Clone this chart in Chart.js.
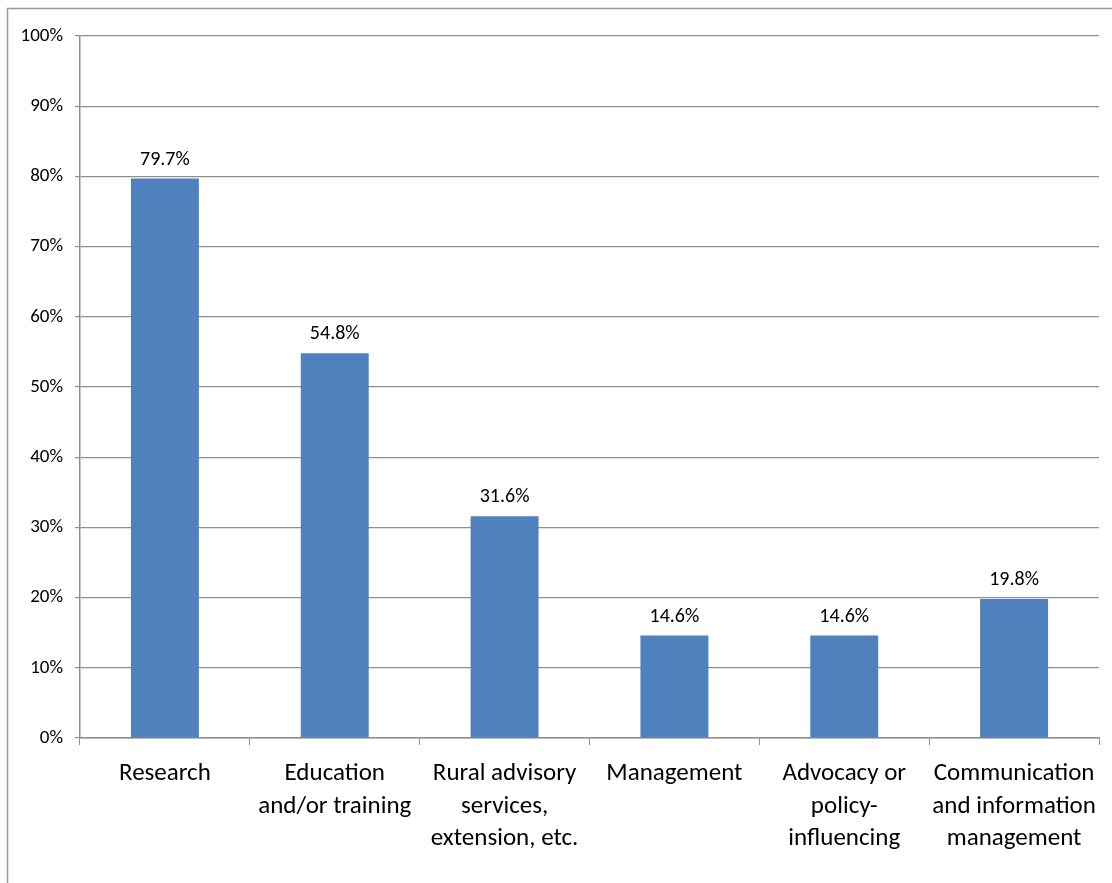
<!DOCTYPE html>
<html>
<head>
<meta charset="utf-8">
<script src="https://cdn.jsdelivr.net/npm/chart.js@4"></script>
<style>
  html, body { margin: 0; padding: 0; background: #fff; }
  #wrap { width: 1112px; height: 883px; position: relative; }
</style>
</head>
<body>
<div id="wrap"><canvas id="myChart"></canvas></div>
<script>
// activity categories (multi-line labels) and share of respondents
const categories = [
    ['Research'],
    ['Education', 'and/or training'],
    ['Rural advisory', 'services,', 'extension, etc.'],
    ['Management'],
    ['Advocacy or', 'policy-', 'influencing'],
    ['Communication', 'and information', 'management']
];
const shares = [79.7, 54.8, 31.6, 14.6, 14.6, 19.8];
const yTicks = [0, 10, 20, 30, 40, 50, 60, 70, 80, 90, 100];

const fontFam = "Carlito, Lato, 'Open Sans', sans-serif";
const gridCol = '#8e8e8e';

// outer frame: only the top and left edges show
const framePlugin = {
    id: 'frame',
    beforeDraw: (chart) => {
        const c = chart.ctx;
        c.save();
        c.strokeStyle = '#9a9a9a';
        c.lineWidth = 1.5;
        c.beginPath();
        c.moveTo(7.5, chart.height);
        c.lineTo(7.5, 8.5);
        c.lineTo(chart.width, 8.5);
        c.stroke();
        c.restore();
    }
};

// value labels above each bar
const valueLabels = {
    id: 'valueLabels',
    afterDatasetsDraw: (chart) => {
        const c = chart.ctx;
        const meta = chart.getDatasetMeta(0);
        c.save();
        c.font = '20px ' + fontFam;
        c.fillStyle = '#000';
        c.textAlign = 'center';
        c.textBaseline = 'bottom';
        meta.data.forEach((bar, i) => {
            c.fillText(shares[i].toFixed(1) + '%', bar.x, bar.y - 9);
        });
        c.restore();
    }
};

const ctx = document.getElementById('myChart');
const myChart = new Chart(ctx, {
    type: 'bar',
    data: {
        labels: categories,
        datasets: [{
            data: shares,
            backgroundColor: '#4f81bd',
            borderWidth: 0,
            barPercentage: 0.4,
            categoryPercentage: 1.0
        }]
    },
    options: {
        responsive: true,
        maintainAspectRatio: false,
        animation: false,
        layout: { padding: { top: 36, right: 13, left: 0, bottom: 0 } },
        plugins: {
            legend: { display: false },
            tooltip: { enabled: false }
        },
        scales: {
            x: {
                grid: {
                    offset: true,
                    drawOnChartArea: false,
                    drawTicks: true,
                    tickLength: 7,
                    color: gridCol
                },
                border: { color: gridCol, width: 1.5 },
                ticks: {
                    color: '#000',
                    font: { family: fontFam, size: 25, lineHeight: 1.29 },
                    padding: 13,
                    maxRotation: 0,
                    autoSkip: false
                },
                afterFit: (scale) => { scale.height = 883 - 738; }
            },
            y: {
                min: 0,
                max: 100,
                afterBuildTicks: (scale) => {
                    scale.ticks = yTicks.map(v => ({ value: v }));
                },
                grid: {
                    color: gridCol,
                    lineWidth: 1.2,
                    tickLength: 5
                },
                border: { color: gridCol, width: 1.5 },
                ticks: {
                    color: '#000',
                    font: { family: fontFam, size: 19 },
                    padding: 12,
                    callback: (v) => v + '%'
                },
                afterFit: (scale) => { scale.width = 80; }
            }
        }
    },
    plugins: [framePlugin, valueLabels]
});
</script>
</body>
</html>
